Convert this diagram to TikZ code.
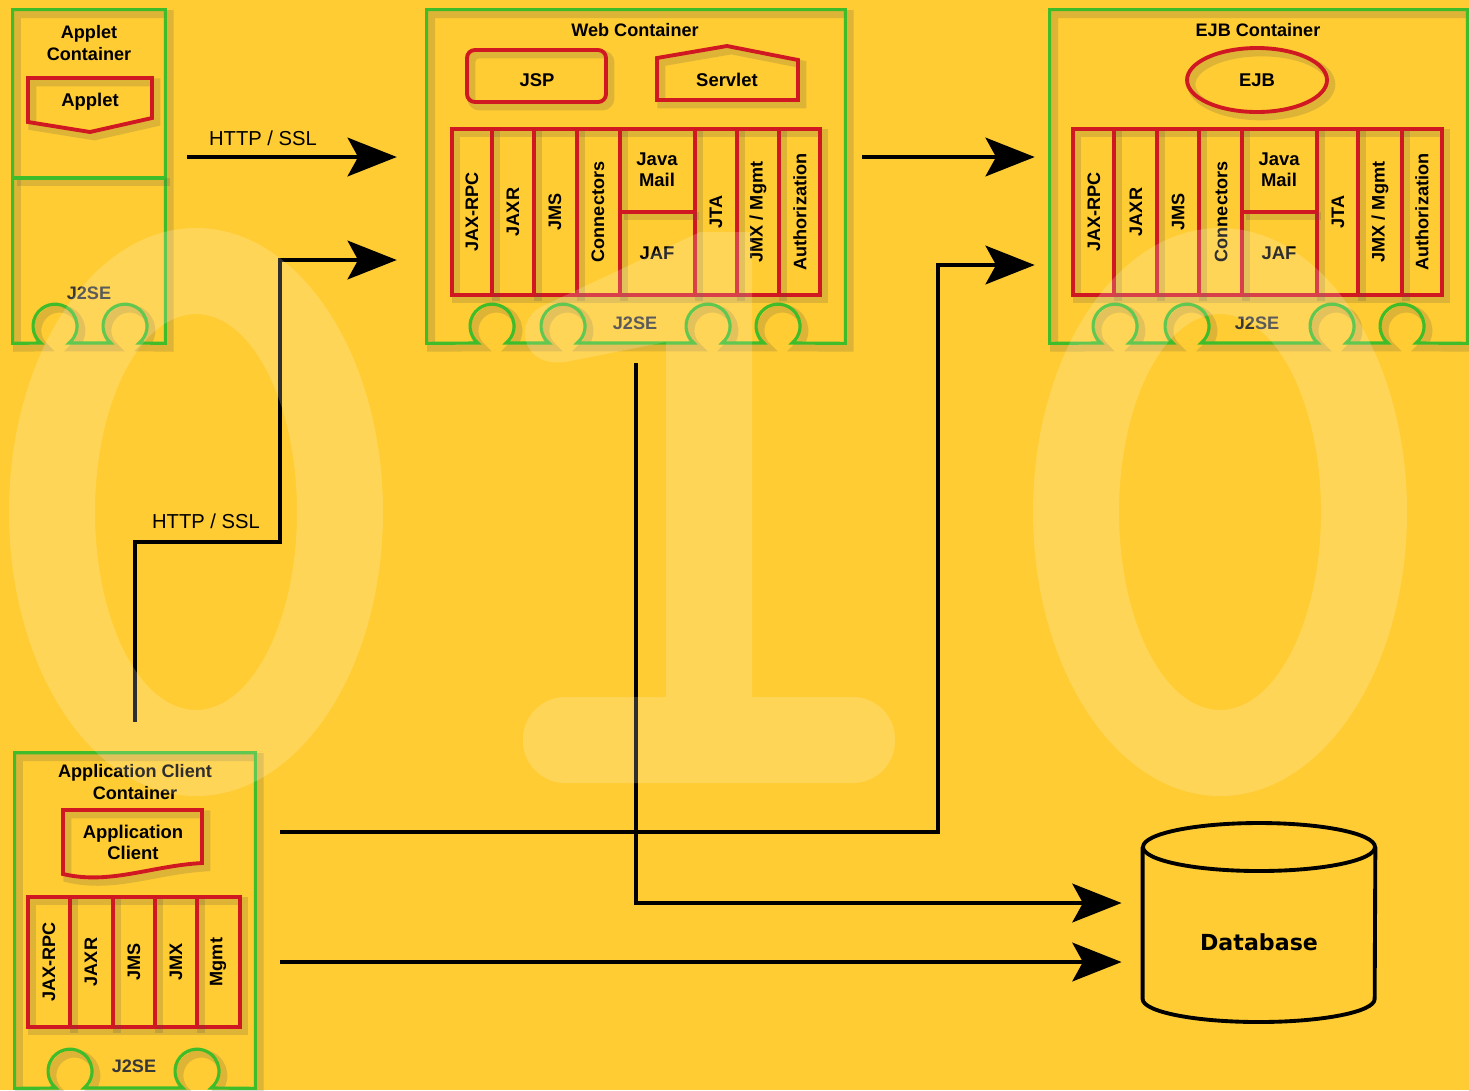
\documentclass[tikz,border=0pt]{standalone}
\usepackage{fontspec}
\setmainfont{Liberation Sans}
\newfontfamily\dbfont{DejaVu Sans}
\usetikzlibrary{arrows.meta,fit,shapes.geometric}
\definecolor{j2eeyellow}{RGB}{255,204,51}
\definecolor{j2eegreen}{RGB}{62,188,42}
\definecolor{j2eered}{RGB}{208,24,34}
\definecolor{j2eegray}{RGB}{55,55,55}
\tikzset{
  haze/.style={preaction={draw=black!70, draw opacity=0.18, line width=4.5pt, transform canvas={xshift=2.5pt, yshift=-2.5pt}}},
  container/.style={draw=j2eegreen, line width=1.8pt, haze},
  apibox/.style={draw=j2eered, line width=2.2pt, haze},
  region/.style={inner sep=0pt},
  boxtitle/.style={font=\bfseries\fontsize{10.3}{12}\selectfont, align=center},
  apilabel/.style={font=\bfseries\fontsize{10.3}{12}\selectfont, rotate=90, inner sep=0pt},
  complabel/.style={font=\bfseries\fontsize{10.5}{12}\selectfont, align=center},
  jtwose/.style={font=\bfseries\fontsize{10.3}{12}\selectfont, text=j2eegray},
  proto/.style={font=\fontsize{11.5}{13}\selectfont},
  dbline/.style={draw=black, line width=2.2pt},
  flow/.style={-{Stealth[length=28pt, width=22pt, inset=6pt]}, line width=2.2pt},
  watermark/.style={fill=white, fill opacity=0.18, even odd rule},
}
\begin{document}
\begin{tikzpicture}[x=0.02cm, y=-0.02cm]
\useasboundingbox (0,0) rectangle (1469,1090);
\fill[j2eeyellow] (0,0) rectangle (1469,1090);

\node[region, fit={(13,10) (165,343)}] (appletbox) {};
\node[region, fit={(427,10) (845,343)}] (webbox) {};
\node[region, fit={(1050,10) (1467,343)}] (ejbbox) {};
\node[region, fit={(15,753) (255,1088)}] (appbox) {};
\node[region, fit={(1143,823) (1375,1022)}] (db) {};

% applet container
\draw[container] (appletbox.south east) -- (appletbox.north east) -- (appletbox.north west) -- (appletbox.south west)
  \foreach \bx in {55,125} { -- (\bx-14.1,343) arc[start angle=130, end angle=410, radius=22] } -- cycle;
\draw[container] (appletbox.west |- 0,178) -- (appletbox.east |- 0,178);
\node[boxtitle] (applettitle) at (89,43) {Applet\\Container};
\draw[apibox] (28,78) -- (152,78) -- (152,118) -- (90,132) -- (28,122) -- cycle;
\node[complabel] (applet) at (90,102) {Applet};
\node[jtwose] (appletj2se) at (89,293) {J2SE};

% web container
\draw[container] (webbox.south east) -- (webbox.north east) -- (webbox.north west) -- (webbox.south west)
  \foreach \bx in {492,563,708,778} { -- (\bx-14.1,343) arc[start angle=130, end angle=410, radius=22] } -- cycle;
\node[boxtitle] (webtitle) at (635,30) {Web Container};
\node[apibox, rounded corners=4.5pt, region, fit={(467,50) (606,102)}] (jspbox) {};
\node[complabel] (jsp) at (537,80) {JSP};
\draw[apibox] (657,100) -- (657,58) -- (727,46) -- (798,60) -- (798,100) -- cycle;
\node[complabel] (servlet) at (727,80) {Servlet};
\node[apibox, region, fit={(452,129) (820,295)}] (webapi) {};
\foreach \dx in {492,534,577,620,695,737,779}
  \draw[apibox] (\dx,0 |- webapi.north) -- (\dx,0 |- webapi.south);
\draw[apibox] (620,212) -- (695,212);
\foreach \lx/\lt [count=\i] in {472/JAX-RPC, 513/JAXR, 555/JMS, 598/Connectors, 716/JTA, 758/{JMX / Mgmt}, 800/Authorization}
  \node[apilabel] (webapi\i) at (\lx,212) {\lt};
\node[complabel] (webmail) at (657,170) {Java\\Mail};
\node[complabel] (webjaf) at (657,253) {JAF};
\node[jtwose] (webj2se) at (635,323) {J2SE};

% ejb container
\draw[container] (ejbbox.south east) -- (ejbbox.north east) -- (ejbbox.north west) -- (ejbbox.south west)
  \foreach \bx in {1115,1187,1332,1402} { -- (\bx-14.1,343) arc[start angle=130, end angle=410, radius=22] } -- cycle;
\node[boxtitle] (ejbtitle) at (1258,30) {EJB Container};
\node[apibox, ellipse, minimum width=2.8cm, minimum height=1.28cm, inner sep=0pt, complabel] (ejb) at (1257,80) {EJB};
\node[apibox, region, fit={(1073,129) (1442,295)}] (ejbapi) {};
\foreach \dx in {1114,1157,1199,1242,1317,1358,1402}
  \draw[apibox] (\dx,0 |- ejbapi.north) -- (\dx,0 |- ejbapi.south);
\draw[apibox] (1242,212) -- (1317,212);
\foreach \lx/\lt [count=\i] in {1094/JAX-RPC, 1136/JAXR, 1178/JMS, 1221/Connectors, 1338/JTA, 1380/{JMX / Mgmt}, 1422/Authorization}
  \node[apilabel] (ejbapi\i) at (\lx,212) {\lt};
\node[complabel] (ejbmail) at (1279,170) {Java\\Mail};
\node[complabel] (ejbjaf) at (1279,253) {JAF};
\node[jtwose] (ejbj2se) at (1257,323) {J2SE};

% application client container
\draw[container] (appbox.south east) -- (appbox.north east) -- (appbox.north west) -- (appbox.south west)
  \foreach \bx in {70,197} { -- (\bx-14.1,1088) arc[start angle=130, end angle=410, radius=22] } -- cycle;
\node[boxtitle] (apptitle) at (135,782) {Application Client\\Container};
\draw[apibox] (63,810) -- (202,810) -- (202,863) .. controls (150,866) and (110,885) .. (63,874) -- cycle;
\node[complabel] (appclient) at (133,842) {Application\\Client};
\node[apibox, region, fit={(28,897) (240,1027)}] (appapi) {};
\foreach \dx in {70,113,155,197}
  \draw[apibox] (\dx,0 |- appapi.north) -- (\dx,0 |- appapi.south);
\foreach \lx/\lt [count=\i] in {49/JAX-RPC, 91/JAXR, 134/JMS, 176/JMX, 218/Mgmt}
  \node[apilabel] (appapi\i) at (\lx,962) {\lt};
\node[jtwose] (appj2se) at (134,1066) {J2SE};

% database
\draw[dbline] (db.north |- 0,847) ellipse[x radius=116, y radius=24];
\draw[dbline] (db.west |- 0,847) -- (db.west |- 0,999) arc[start angle=180, end angle=0, x radius=116, y radius=23] -- (db.east |- 0,847);
\node[font=\dbfont\bfseries\fontsize{12.6}{14}\selectfont] (dblabel) at (1259,942) {Database};

% connectors
\draw[flow, shorten <=12.5pt, shorten >=17pt] (appletbox.east |- 0,157) -- (webbox.west |- 0,157);
\node[proto] (ssltop) at (263,138) {HTTP / SSL};
\draw[flow, shorten <=17.5pt, shorten >=17pt] (appbox.north) |- (280,542) |- (webbox.west |- 0,260);
\node[proto] (sslclient) at (206,521) {HTTP / SSL};
\draw[flow, shorten <=9.6pt, shorten >=8.5pt] (webbox.east |- 0,157) -- (ejbbox.west |- 0,157);
\draw[flow, shorten <=14pt, shorten >=8.5pt] (appbox.east |- 0,832) -| (938,265) -- (ejbbox.west |- 0,265);
\draw[flow, shorten <=11.3pt, shorten >=12pt] (webbox.south) |- (db.west |- 0,903);
\draw[flow, shorten <=14pt, shorten >=12pt] (appbox.east |- 0,962) -- (db.west |- 0,962);

% 0 1 0 in the background
\fill[watermark] (196,512) ellipse[x radius=187, y radius=284] (196,512) ellipse[x radius=101, y radius=198];
\fill[watermark] (1220,512) ellipse[x radius=187, y radius=284] (1220,512) ellipse[x radius=101, y radius=198];
\fill[fill=white, fill opacity=0.18] (666,697) -- (666,342) -- (565,362) .. controls (520,368) and (512,318) .. (545,305) -- (700,232) -- (752,232) -- (752,697) -- cycle
  [rounded corners=24pt] (523,697) rectangle (895,783);
\end{tikzpicture}
\end{document}
